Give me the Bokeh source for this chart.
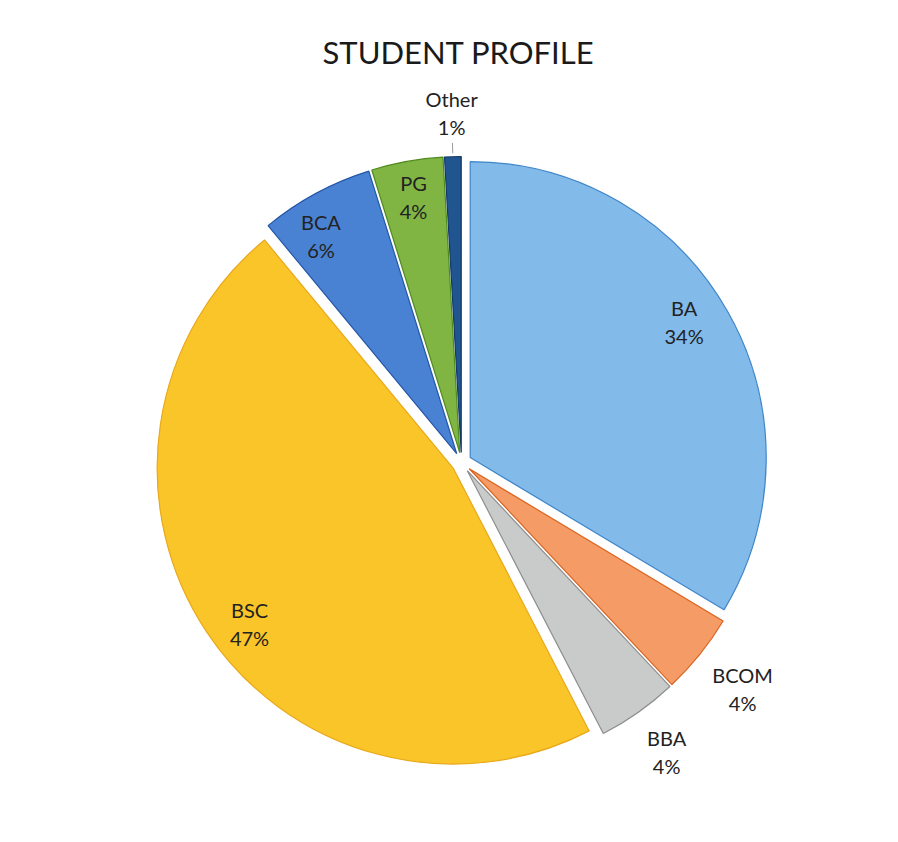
import numpy as np
from bokeh.plotting import figure
from bokeh.models import Range1d, ColumnDataSource
from bokeh.core.properties import value
from bokeh.embed import file_html
from bokeh.resources import INLINE

# ---- data ----
categories = ["BA", "BCOM", "BBA", "BSC", "BCA", "PG", "Other"]
shares = [33.6, 4.4, 4.4, 46.6, 6.2, 3.9, 0.9]
pct_labels = ["34%", "4%", "4%", "47%", "6%", "4%", "1%"]
title_text = "STUDENT PROFILE"

# ---- styles ----
fill_colors = ["#82BAEA", "#F59B66", "#C9CACA", "#FAC528", "#4A82D3", "#80B544", "#21558F"]
edge_colors = ["#3F86C9", "#D9641F", "#8E8E8E", "#E9A81A", "#2456A8", "#4E8A1E", "#123866"]
label_r = [0.89, 1.22, 1.20, 0.90, 0.90, 0.91, 1.18]
label_dtheta = [-2.8, 0.0, 0.0, -3.8, -3.4, 0.0, 0.0]   # degrees, clockwise from top
FONT = "Lato"

W, H = 882, 826
CX, CY = 461, 364      # pie centre (data px)
R = 296                # radius
EXPLODE = 10

p = figure(width=W, height=H, x_range=Range1d(0, W), y_range=Range1d(0, H),
           output_backend="svg", toolbar_location=None, min_border=0,
           x_axis_type=None, y_axis_type=None)
p.outline_line_color = None
p.grid.visible = False
p.background_fill_color = "white"
p.border_fill_color = "white"

vals = np.array(shares, dtype=float)
frac = vals / vals.sum()
ends = np.cumsum(frac) * 2 * np.pi          # clockwise from top
starts = ends - frac * 2 * np.pi
mids = (starts + ends) / 2

xs = CX + EXPLODE * np.sin(mids)
ys = CY + EXPLODE * np.cos(mids)
src = ColumnDataSource(dict(
    x=xs, y=ys,
    start=np.pi / 2 - ends, end=np.pi / 2 - starts,
    fill=fill_colors, edge=edge_colors,
))
p.wedge(x="x", y="y", radius=R, start_angle="start", end_angle="end",
        direction="anticlock", fill_color="fill", line_color="edge",
        line_width=1.2, source=src)

lr = np.array(label_r)
la = mids + np.radians(label_dtheta)
lx = CX + lr * R * np.sin(la)
ly = CY + lr * R * np.cos(la)
lsrc = ColumnDataSource(dict(x=lx, y=ly, name=categories, pct=pct_labels))
p.text(x="x", y="y", text="name", source=lsrc, text_align="center",
       text_baseline="middle", y_offset=-14, text_font=value(FONT),
       text_font_size="20px", text_color="#222222")
p.text(x="x", y="y", text="pct", source=lsrc, text_align="center",
       text_baseline="middle", y_offset=14, text_font=value(FONT),
       text_font_size="20px", text_color="#222222")

# leader line for the small "Other" slice
i = categories.index("Other")
r0, r1 = 1.045, 1.08
p.segment(x0=[CX + r0 * R * np.sin(mids[i])], y0=[CY + r0 * R * np.cos(mids[i])],
          x1=[CX + r1 * R * np.sin(mids[i])], y1=[CY + r1 * R * np.cos(mids[i])],
          line_color="#999999", line_width=1)

p.text(x=[458], y=[775], text=[title_text], text_align="center",
       text_baseline="middle", text_font=value(FONT), text_font_size="31px",
       text_color="#1a1a1a")

open("out.html", "w").write(file_html(p, INLINE))
